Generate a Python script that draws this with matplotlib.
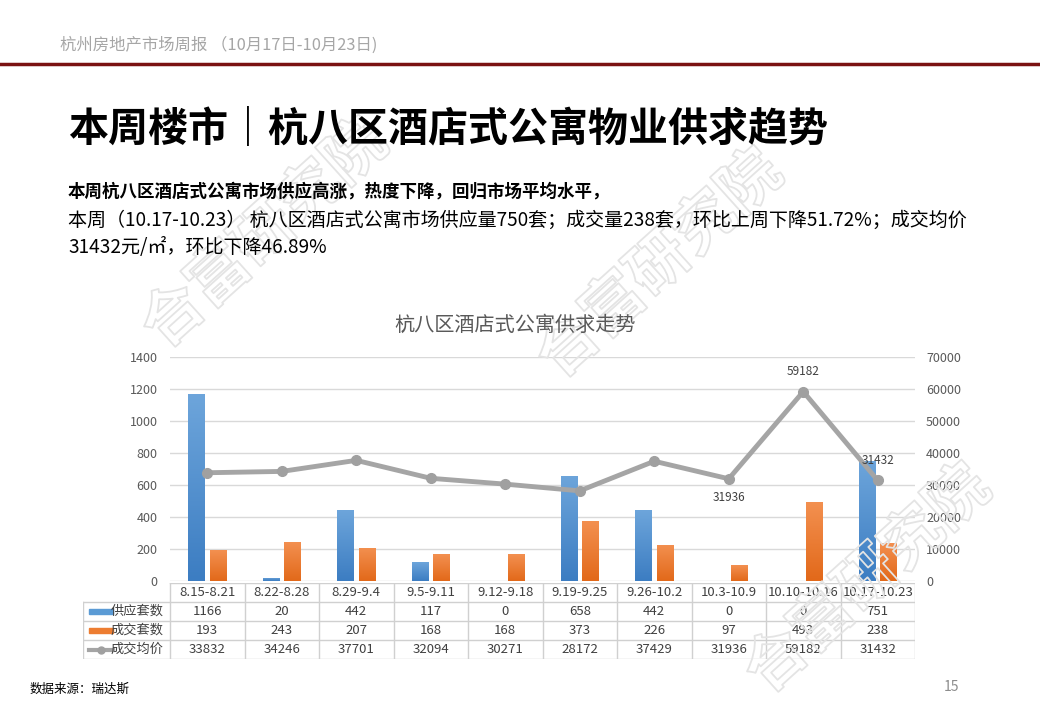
import numpy as np
import matplotlib
matplotlib.use('Agg')
import matplotlib.pyplot as plt
import matplotlib.patheffects as pe
from matplotlib.colors import LinearSegmentedColormap
from matplotlib.lines import Line2D

plt.rcParams['font.family'] = ['Noto Sans CJK SC', 'DejaVu Sans']

# 数据
weeks = ['8.15-8.21', '8.22-8.28', '8.29-9.4', '9.5-9.11', '9.12-9.18',
         '9.19-9.25', '9.26-10.2', '10.3-10.9', '10.10-10.16', '10.17-10.23']
supply = [1166, 20, 442, 117, 0, 658, 442, 0, 0, 751]
deals = [193, 243, 207, 168, 168, 373, 226, 97, 493, 238]
price = [33832, 34246, 37701, 32094, 30271, 28172, 37429, 31936, 59182, 31432]
series_names = ['供应套数', '成交套数', '成交均价']
labelled = {7: 'below', 8: 'above', 9: 'above'}  # 只标注这几个点

W, H = 1040, 720
fig = plt.figure(figsize=(W / 100, H / 100), dpi=100)

def fx(px):
    return px / W

def fy(py):
    return 1 - py / H

# 水印（只描边）
wm = dict(fontsize=44, weight='bold', color=(1, 1, 1, 0), rotation=42,
          ha='center', va='center', zorder=0.5,
          path_effects=[pe.Stroke(linewidth=1.3, foreground='#E4E4E4')])
fig.text(fx(265), fy(235), '合富研究院', **wm)
fig.text(fx(660), fy(265), '合富研究院', **wm)
fig.text(fx(868), fy(580), '合富研究院', **wm)

# 页眉
fig.text(fx(60), fy(45), '杭州房地产市场周报 （10月17日-10月23日)', fontsize=11.8,
         color='#A6A6A6', va='center')
fig.add_artist(Line2D([0, 1], [fy(64), fy(64)], color='#7A1212', lw=2.5))
fig.text(fx(68), fy(130), '本周楼市｜杭八区酒店式公寓物业供求趋势', fontsize=28.8,
         weight='bold', color='black', va='center')
fig.text(fx(68), fy(192), '本周杭八区酒店式公寓市场供应高涨，热度下降，回归市场平均水平，',
         fontsize=12.6, weight='bold', color='black', va='center')
fig.text(fx(68), fy(220), '本周（10.17-10.23） 杭八区酒店式公寓市场供应量750套；成交量238套，环比上周下降51.72%；成交均价',
         fontsize=13.7, color='black', va='center')
fig.text(fx(68), fy(247), '31432元/㎡，环比下降46.89%', fontsize=13.7, color='black', va='center')

# 主图
left, right, top, bottom = 170, 915, 357, 581
ax = fig.add_axes([fx(left), fy(bottom), fx(right - left), (bottom - top) / H])
ax.patch.set_alpha(0)
n = len(weeks)
x = np.arange(n)
bw = 0.225
off = 0.145

blue_cm = LinearSegmentedColormap.from_list('b', ['#3C7DC2', '#6DA5DB'])
orange_cm = LinearSegmentedColormap.from_list('o', ['#E2691A', '#F39050'])
grad = np.linspace(0, 1, 100).reshape(-1, 1)

bars_s = ax.bar(x - off, supply, bw, color='#5B9BD5', zorder=2)
bars_d = ax.bar(x + off, deals, bw, color='#ED7D31', zorder=2)
for bars, cm in ((bars_s, blue_cm), (bars_d, orange_cm)):
    for b in bars:
        h = b.get_height()
        if h <= 0:
            continue
        x0 = b.get_x()
        im = ax.imshow(grad, cmap=cm, origin='lower', aspect='auto',
                       extent=[x0, x0 + b.get_width(), 0, h], zorder=2.1)
        im.set_clip_path(b)

ax.set_xlim(-0.5, n - 0.5)
ax.set_ylim(0, 1400)
ax.set_yticks(range(0, 1401, 200))
ax.grid(axis='y', color='#D9D9D9', lw=1, zorder=0)
ax.set_axisbelow(True)
for s in ax.spines.values():
    s.set_visible(False)
ax.set_xticks([])
ax.tick_params(axis='y', length=0, labelsize=9, labelcolor='#595959', pad=9)

ax2 = ax.twinx()
ax2.set_ylim(0, 70000)
ax2.set_yticks(range(0, 70001, 10000))
ax2.tick_params(axis='y', length=0, labelsize=9, labelcolor='#595959', pad=8)
for s in ax2.spines.values():
    s.set_visible(False)
ax2.plot(x, price, color='#A5A5A5', lw=3.5, marker='o', markersize=7,
         markerfacecolor='#A0A0A0', markeredgecolor='#A0A0A0', zorder=3,
         solid_joinstyle='round')
for i, pos in labelled.items():
    if pos == 'above':
        ax2.annotate(str(price[i]), (x[i], price[i]), xytext=(0, 10), textcoords='offset points',
                     ha='center', va='bottom', fontsize=8.5, color='#404040')
    else:
        ax2.annotate(str(price[i]), (x[i], price[i]), xytext=(0, -9), textcoords='offset points',
                     ha='center', va='top', fontsize=8.5, color='#404040')

fig.text(fx(515), fy(325), '杭八区酒店式公寓供求走势', fontsize=14.5, color='#595959',
         ha='center', va='center')

# 数据表
tleft, ttop, tbottom = 83, 583, 659
cw = (right - left) / n
tab = fig.add_axes([fx(tleft), fy(tbottom), fx(right - tleft), (tbottom - ttop) / H])
x_start = -0.5 - (left - tleft) / cw
tab.set_xlim(x_start, n - 0.5)
tab.set_ylim(4, 0)
tab.axis('off')
gc = '#D0D0D0'
# 横线
tab.plot([-0.5, n - 0.5], [0, 0], color=gc, lw=1)
for r in range(1, 5):
    tab.plot([x_start, n - 0.5], [r, r], color=gc, lw=1)
# 竖线
for c in range(n + 1):
    tab.plot([c - 0.5, c - 0.5], [0, 4], color=gc, lw=1)
tab.plot([x_start, x_start], [1, 4], color=gc, lw=1)
for i, w in enumerate(weeks):
    tab.text(i, 0.5, w, ha='center', va='center', fontsize=9.5, color='#404040')
rows = [supply, deals, price]
for r, vals in enumerate(rows):
    for i, v in enumerate(vals):
        tab.text(i, r + 1.5, str(v), ha='center', va='center', fontsize=9.5, color='#404040')
    tab.text(-0.5 - 0.09, r + 1.5, series_names[r], ha='right', va='center',
             fontsize=9.5, color='#404040')
# 图例符号
sx0 = x_start + 6 / cw
sx1 = x_start + 30 / cw
tab.add_patch(plt.Rectangle((sx0, 1.38), sx1 - sx0, 0.24, color='#5B9BD5'))
tab.add_patch(plt.Rectangle((sx0, 2.38), sx1 - sx0, 0.24, color='#ED7D31'))
tab.plot([sx0, sx1], [3.5, 3.5], color='#A5A5A5', lw=3)
tab.plot([(sx0 + sx1) / 2], [3.5], 'o', color='#A0A0A0', markersize=5)

# 页脚
fig.text(fx(30), fy(689), '数据来源：瑞达斯', fontsize=9, color='black', va='center')
fig.text(fx(944), fy(687), '15', fontsize=10, color='#8C8C8C', va='center')

fig.savefig('out.png', dpi=100)
